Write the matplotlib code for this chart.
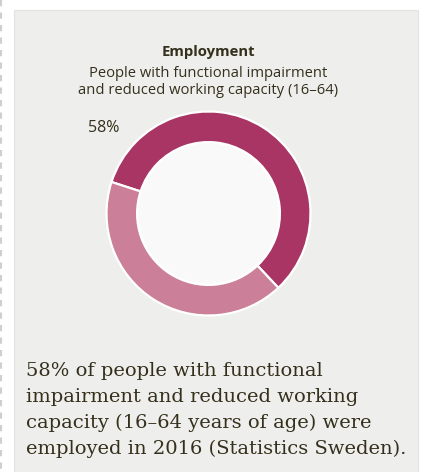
import matplotlib.pyplot as plt
from matplotlib.patches import Rectangle, Circle

# data
categories = ["Employed", "Not employed"]
shares = [58, 42]
colors = ["#a83564", "#cb7f98"]
title = "Employment"
subtitle = "People with functional impairment\nand reduced working capacity (16\u201364)"
caption = ("58% of people with functional\n"
           "impairment and reduced working\n"
           "capacity (16\u201364 years of age) were\n"
           "employed in 2016 (Statistics Sweden).")

W, H = 426, 472
fig = plt.figure(figsize=(W / 100, H / 100), dpi=100)
fig.patch.set_facecolor("white")

# background layer in pixel coords
bg = fig.add_axes([0, 0, 1, 1])
bg.set_xlim(0, W)
bg.set_ylim(H, 0)
bg.axis("off")
bg.add_patch(Rectangle((14, 10), 404, 470, facecolor="#eeeeec",
                       edgecolor="#e2e2e0", linewidth=0.8))
bg.plot([1, 1], [0, H], color="#cfcfcf", linewidth=1.5, linestyle=(0, (3, 3)))

txt_color = "#35301c"
bg.text(208, 52, title, ha="center", va="center", fontsize=10.7,
        fontweight="bold", family="Open Sans", color=txt_color)
bg.text(208, 82, subtitle, ha="center", va="center", fontsize=10.6,
        family="Open Sans", color=txt_color, linespacing=1.2)
bg.text(104, 128, f"{shares[0]}%", ha="center", va="center", fontsize=11.5,
        family="Open Sans", color=txt_color)
bg.text(26, 410, caption, ha="left", va="center", fontsize=14,
        family="DejaVu Serif", color=txt_color, linespacing=1.55)

# donut
cx, cy, r = 208.5, 213.5, 102
ax = fig.add_axes([(cx - r) / W, (H - cy - r) / H, 2 * r / W, 2 * r / H])
ax.pie(shares, colors=colors, startangle=162, counterclock=False,
       radius=1, wedgeprops=dict(width=0.3, edgecolor="white", linewidth=1.6))
ax.add_patch(Circle((0, 0), 0.695, facecolor="#f9f9f9", edgecolor="white",
                    linewidth=1.2, zorder=5))
ax.set_xlim(-1, 1)
ax.set_ylim(-1, 1)
ax.set_aspect("auto")
ax.axis("off")

fig.savefig("out.png", dpi=100)
